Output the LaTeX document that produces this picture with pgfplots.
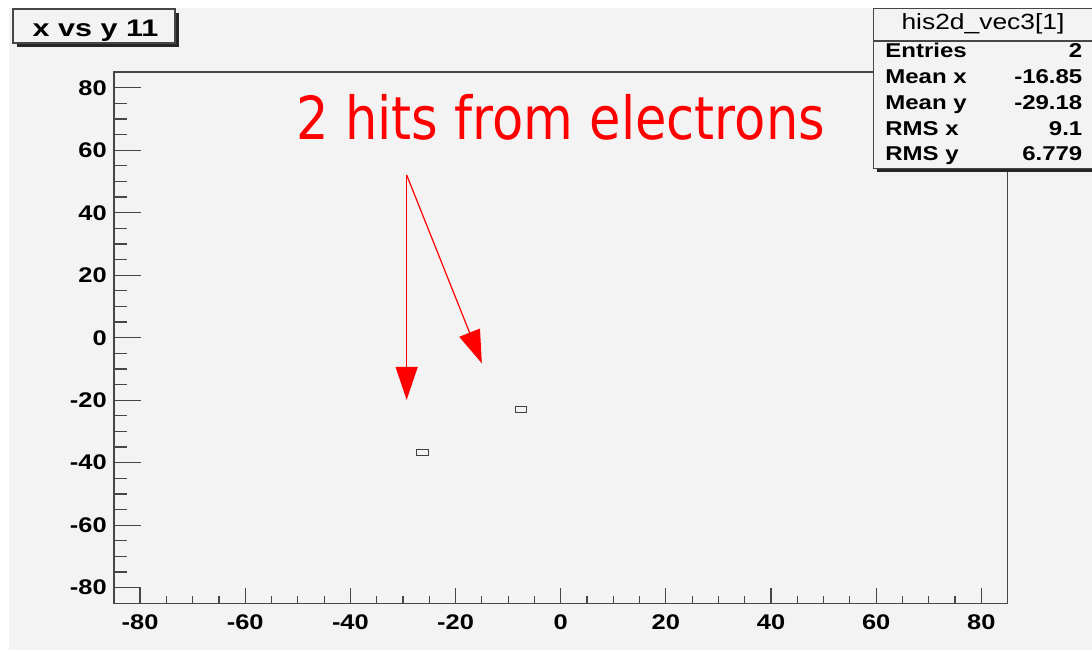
\documentclass[border=0pt]{standalone}
\usepackage{fontspec}
\usepackage{graphicx}
\usepackage{pgfplots}
\pgfplotsset{compat=1.18}
\usetikzlibrary{arrows.meta}
\newfontfamily\rootfont[FakeStretch=1.2]{Liberation Sans}
\newfontfamily\dejavu{DejaVu Sans}
\definecolor{bggray}{RGB}{243,243,243}
\definecolor{framegray}{RGB}{70,70,70}
\begin{document}
\begin{tikzpicture}
\useasboundingbox (0,0) rectangle (546pt,325pt);
\fill[white] (0,0) rectangle (546pt,325pt);
\fill[bggray] (4.5pt,0) rectangle (546pt,321pt);
\begin{axis}[
  at={(56.9pt,23.35pt)}, anchor=south west,
  scale only axis, width=446.9pt, height=265.6pt,
  xmin=-85, xmax=85, ymin=-85, ymax=85,
  xtick={-80,-60,-40,-20,0,20,40,60,80},
  ytick={-80,-60,-40,-20,0,20,40,60,80},
  xticklabels={-80,-60,-40,-20,0,20,40,60,80},
  yticklabels={-80,-60,-40,-20,0,20,40,60,80},
  minor tick num=3,
  tick align=inside,
  xtick pos=bottom, ytick pos=left,
  axis line style={framegray, line width=0.8pt},
  xtick style={framegray, line width=0.6pt, /pgfplots/major tick length=7.5pt, /pgfplots/minor tick length=3.5pt},
  ytick style={framegray, line width=0.6pt, /pgfplots/major tick length=13.5pt, /pgfplots/minor tick length=6.5pt},
  ticklabel style={font=\rootfont\bfseries\fontsize{10.6}{12}\selectfont},
  xticklabel style={yshift=-2.3pt},
  clip=false,
]
\addplot[only marks, mark=square, mark size=1.5pt, mark options={xscale=1.9, draw=black!75, line width=0.5pt}]
  coordinates {(-26.3,-36.6) (-7.6,-23.0)};
\node[anchor=base, text=red, font=\dejavu\fontsize{29.7}{34}\selectfont] at (axis cs:0,63.3) {\scalebox{0.86}[1]{2 hits from electrons}};
\draw[red, line width=0.6pt, -{Triangle[length=16.5pt,width=11pt]}] (axis cs:-29.3,52.1) -- (axis cs:-29.3,-19.9);
\draw[red, line width=0.6pt, -{Triangle[length=16.5pt,width=11pt]}] (axis cs:-29.3,52.1) -- (axis cs:-15.0,-8.2);
\end{axis}
% title box
\fill[black!85] (8.5pt,301.5pt) rectangle (89.5pt,318.5pt);
\filldraw[fill=bggray, draw=framegray, line width=0.6pt] (6.5pt,303.5pt) rectangle (87.5pt,320.5pt);
\node[anchor=base, font=\rootfont\bfseries\fontsize{12}{14}\selectfont] at (47.75pt,307pt) {\scalebox{1.06}[1]{x vs y 11}};
% stats box
\fill[black!85] (438.6pt,239.2pt) rectangle (548pt,319pt);
\filldraw[fill=bggray, draw=framegray, line width=0.6pt] (436.65pt,240.85pt) rectangle (547pt,320.85pt);
\draw[framegray, line width=0.6pt] (436.65pt,304.5pt) -- (547pt,304.5pt);
\node[anchor=base, font=\rootfont\fontsize{11}{13}\selectfont] at (491.5pt,310.5pt) {his2d\_vec3[1]};
\begin{scope}[every node/.style={font=\rootfont\bfseries\fontsize{10}{12}\selectfont, inner sep=0pt}]
\node[anchor=base west] at (442.5pt,296.25pt) {Entries};
\node[anchor=base east] at (541.35pt,296.25pt) {2};
\node[anchor=base west] at (442.5pt,283.25pt) {Mean x};
\node[anchor=base east] at (541.35pt,283.25pt) {-16.85};
\node[anchor=base west] at (442.5pt,270.5pt) {Mean y};
\node[anchor=base east] at (541.35pt,270.5pt) {-29.18};
\node[anchor=base west] at (442.5pt,257.5pt) {RMS x};
\node[anchor=base east] at (541.35pt,257.5pt) {9.1};
\node[anchor=base west] at (442.5pt,244.75pt) {RMS y};
\node[anchor=base east] at (541.35pt,244.75pt) {6.779};
\end{scope}
\end{tikzpicture}
\end{document}
